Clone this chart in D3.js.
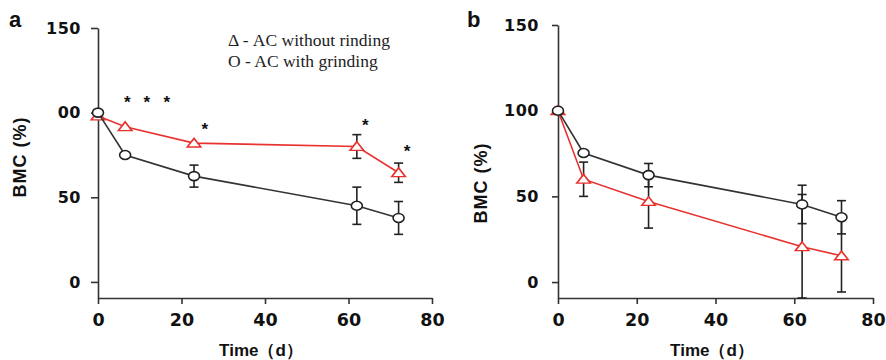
<!DOCTYPE html>
<html>
<head>
<meta charset="utf-8">
<script src="https://cdn.jsdelivr.net/npm/d3@7"></script>
<style>
  html, body { margin: 0; padding: 0; background: #fff; }
  svg { display: block; }
</style>
</head>
<body>
<svg id="chart" width="886" height="360"></svg>
<script>
// ---- data ----
const days = [0, 6.5, 23, 62, 72];
const xTicks = [0, 20, 40, 60, 80];
const yTicks = [0, 50, 100, 150];
const yTickLabelsA = ["0", "50", "00", "150"];
const yTickLabelsB = ["0", "50", "100", "150"];

// panel a
const aGrind = [100, 75, 62.5, 45, 37.8];
const aGrindErr = [0, 0, 6.5, 11, 9.7];
const aNoGrind = [98, 91.7, 82, 80, 64.5];
const aNoGrindErr = [0, 0, 0, 7, 5.7];
// asterisks (day, value)
const starDays = [7, 11.7, 16.5, 25.6, 64, 74];
const starVals = [107, 107, 107, 91, 93, 78];

// panel b
const bGrind = [100, 75.3, 62.4, 45.3, 37.8];
const bGrindErr = [0, 0, 6.8, 11.2, 9.7];
const bNoGrind = [100, 60, 47, 20.6, 15.3];
const bNoGrindErr = [0, 10, 15.5, 30.5, 21.1];

const legendLines = ["\u0394 - AC without rinding", "O - AC with grinding"];

// ---- drawing ----
const svg = d3.select("#chart");
const RED = "#e8322f", DARK = "#333";

function panel(opts) {
  const x = d3.scaleLinear().domain([0, 80]).range(opts.xr);
  const y = d3.scaleLinear().domain([opts.yMin, 150]).range([298, opts.yTop]);
  const g = svg.append("g");

  // y axis
  const ya = d3.axisLeft(y).tickValues(yTicks).tickSize(opts.tickY)
    .tickPadding(opts.padY).tickSizeOuter(0)
    .tickFormat((d, i) => opts.yLabels[i]);
  const yg = g.append("g").attr("transform", `translate(${opts.xr[0]},0)`).call(ya);
  yg.selectAll("text").style("font-family", "'DejaVu Sans', sans-serif")
    .style("font-weight", "bold").style("font-size", "16px")
    .style("letter-spacing", "0.5px").attr("fill", "#111");

  // x axis
  const xa = d3.axisBottom(x).tickValues(xTicks).tickSize(6).tickPadding(10).tickSizeOuter(0);
  const xg = g.append("g").attr("transform", "translate(0,298)").call(xa);
  xg.selectAll("text").style("font-family", "'DejaVu Sans', sans-serif")
    .style("font-weight", "bold").style("font-size", "17.5px")
    .attr("fill", "#111");

  g.selectAll(".domain, .tick line").attr("stroke", DARK).attr("stroke-width", 1.6);

  // axis titles
  g.append("text")
    .attr("transform", `translate(${opts.ylabX},${opts.ylabY}) rotate(-90)`)
    .attr("text-anchor", "middle")
    .style("font-family", "Arial, 'Liberation Sans', sans-serif")
    .style("font-weight", "bold").style("font-size", "18px")
    .style("letter-spacing", "1px")
    .attr("fill", "#111").text("BMC (%)");
  g.append("text")
    .attr("x", opts.xlabX).attr("y", 356)
    .attr("text-anchor", "middle")
    .style("font-family", "Arial, 'Liberation Sans', sans-serif")
    .style("font-weight", "bold").style("font-size", "17px")
    .attr("fill", "#111").text("Time\uFF08d\uFF09");

  // panel letter
  g.append("text").attr("x", opts.letterX).attr("y", 27)
    .style("font-family", "Arial, 'Liberation Sans', sans-serif")
    .style("font-weight", "bold").style("font-size", "22px")
    .attr("fill", "#111").text(opts.letter);

  const line = d3.line().x((d, i) => x(days[i])).y(d => y(d));

  function errbars(vals, errs) {
    const eg = g.append("g").attr("stroke", "#222").attr("stroke-width", 1.6);
    vals.forEach((v, i) => {
      const e = errs[i];
      if (!e) return;
      const cx = x(days[i]);
      const hi = y(v + e);
      const lo = Math.min(y(v - e), 298);
      eg.append("line").attr("x1", cx).attr("x2", cx).attr("y1", lo).attr("y2", hi);
      eg.append("line").attr("x1", cx - 4.5).attr("x2", cx + 4.5).attr("y1", hi).attr("y2", hi);
      eg.append("line").attr("x1", cx - 4.5).attr("x2", cx + 4.5).attr("y1", lo).attr("y2", lo);
    });
  }

  // red series (without grinding)
  g.append("path").datum(opts.red).attr("d", line)
    .attr("fill", "none").attr("stroke", RED).attr("stroke-width", 1.6);
  errbars(opts.red, opts.redErr);
  const tri = d3.symbol().type(d3.symbolTriangle).size(60);
  g.selectAll(".tri").data(opts.red).enter().append("path")
    .attr("d", tri)
    .attr("transform", (d, i) => `translate(${x(days[i])},${y(d) + 1}) scale(1.15,0.85)`)
    .attr("fill", "#fff").attr("stroke", RED).attr("stroke-width", 1.6);

  // black series (with grinding)
  g.append("path").datum(opts.black).attr("d", line)
    .attr("fill", "none").attr("stroke", DARK).attr("stroke-width", 1.6);
  errbars(opts.black, opts.blackErr);
  g.selectAll(".circ").data(opts.black).enter().append("ellipse")
    .attr("cx", (d, i) => x(days[i])).attr("cy", d => y(d))
    .attr("rx", 5.5).attr("ry", 4.5)
    .attr("fill", "#fff").attr("stroke", "#222").attr("stroke-width", 1.6);

  return { x, y, g };
}

const A = panel({
  xr: [98, 432], yMin: -9.5, yTop: 28, tickY: 7, padY: 10,
  yLabels: yTickLabelsA, ylabX: 26, ylabY: 157, xlabX: 261,
  letter: "a", letterX: 9,
  red: aNoGrind, redErr: aNoGrindErr, black: aGrind, blackErr: aGrindErr
});
const B = panel({
  xr: [558, 873], yMin: -9.3, yTop: 25, tickY: 6, padY: 13,
  yLabels: yTickLabelsB, ylabX: 487, ylabY: 183, xlabX: 712,
  letter: "b", letterX: 467,
  red: bNoGrind, redErr: bNoGrindErr, black: bGrind, blackErr: bGrindErr
});

// asterisks in panel a
A.g.selectAll(".star").data(starVals).enter().append("text")
  .attr("x", (d, i) => A.x(starDays[i])).attr("y", d => A.y(d) + 7)
  .attr("text-anchor", "middle")
  .style("font-family", "Arial, 'Liberation Sans', sans-serif")
  .style("font-weight", "bold").style("font-size", "17px")
  .attr("fill", "#111").text("*");

// legend in panel a
A.g.selectAll(".leg").data(legendLines).enter().append("text")
  .attr("x", 228).attr("y", (d, i) => 46 + i * 21)
  .style("font-family", "'Liberation Serif', 'Times New Roman', serif")
  .style("font-size", "17.5px")
  .attr("fill", "#222").text(d => d);
</script>
</body>
</html>
